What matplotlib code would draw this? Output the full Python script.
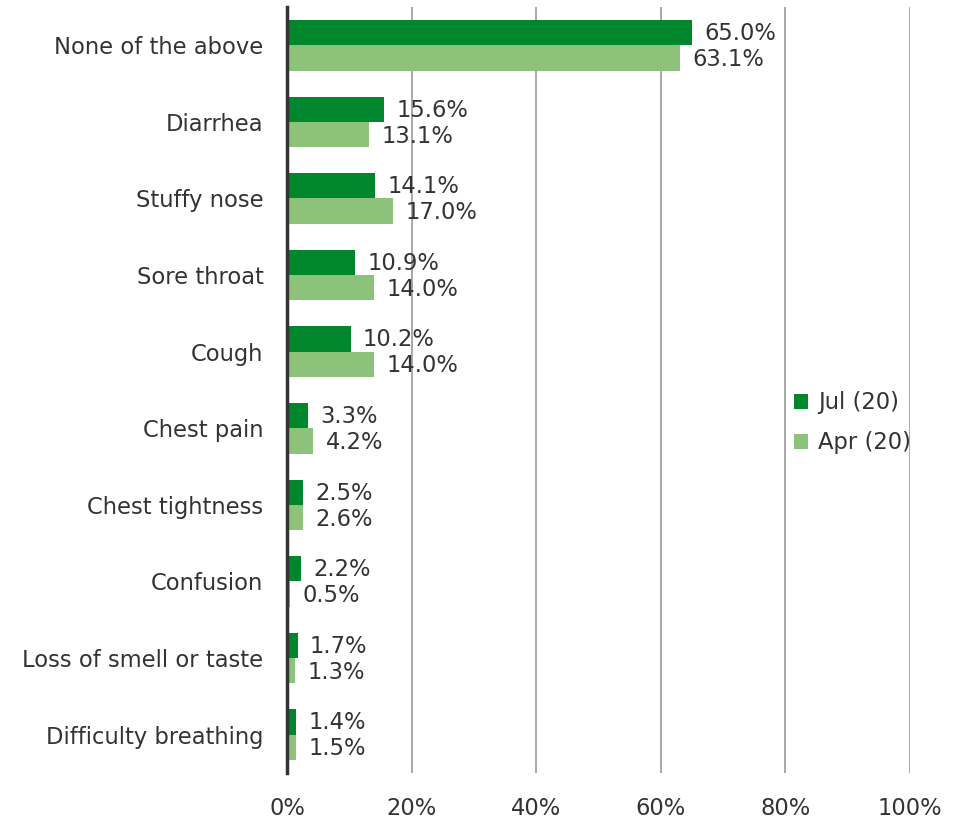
import matplotlib
matplotlib.use("Agg")
import matplotlib.pyplot as plt
import numpy as np

categories = ["None of the above", "Diarrhea", "Stuffy nose", "Sore throat", "Cough",
              "Chest pain", "Chest tightness", "Confusion", "Loss of smell or taste",
              "Difficulty breathing"]
jul = [65.0, 15.6, 14.1, 10.9, 10.2, 3.3, 2.5, 2.2, 1.7, 1.4]
apr = [63.1, 13.1, 17.0, 14.0, 14.0, 4.2, 2.6, 0.5, 1.3, 1.5]
series_names = ["Jul (20)", "Apr (20)"]
xticks = [0, 20, 40, 60, 80, 100]

c_jul = "#00872E"
c_apr = "#8CC27A"
txt = "#333333"
fs = 16.3

plt.rcParams['font.family'] = ['DejaVu Sans']
fig = plt.figure(figsize=(9.59, 8.22), dpi=100)
ax = fig.add_axes([287/959, 1-773/822, (910-287)/959, (773-7)/822])

y = np.arange(len(categories))
h = 0.33
ax.barh(y - h/2, jul, height=h, color=c_jul, label=series_names[0], zorder=3)
ax.barh(y + h/2, apr, height=h, color=c_apr, label=series_names[1], zorder=3)

for yi, v in zip(y, jul):
    ax.text(v + 2.0, yi - h/2 + 0.01, f"{v:.1f}%", va="center", ha="left", fontsize=fs, color=txt)
for yi, v in zip(y, apr):
    ax.text(v + 2.0, yi + h/2 + 0.02, f"{v:.1f}%", va="center", ha="left", fontsize=fs, color=txt)

ax.set_xlim(0, 100)
ax.set_ylim(len(categories) - 0.5, -0.5)
ax.set_xticks(xticks)
ax.set_xticklabels([f"{t}%" for t in xticks], fontsize=fs, color=txt)
ax.set_yticks(y)
ax.set_yticklabels(categories, fontsize=fs, color=txt)
ax.tick_params(axis="both", length=0)
ax.tick_params(axis="x", pad=17)
ax.tick_params(axis="y", pad=17)
ax.grid(axis="x", color="#999999", linewidth=1.2, zorder=0)
for s in ["top", "right", "bottom"]:
    ax.spines[s].set_visible(False)
ax.spines["left"].set_color("#333333")
ax.spines["left"].set_linewidth(2.5)
ax.spines["left"].set_zorder(4)

leg = ax.legend(loc="center left", bbox_to_anchor=(0.80, 0.457), frameon=False, fontsize=fs,
                handlelength=0.6, handleheight=0.6, handletextpad=0.45, labelspacing=0.75,
                borderaxespad=0)
for t in leg.get_texts():
    t.set_color(txt)

fig.savefig("out.png", dpi=100)
